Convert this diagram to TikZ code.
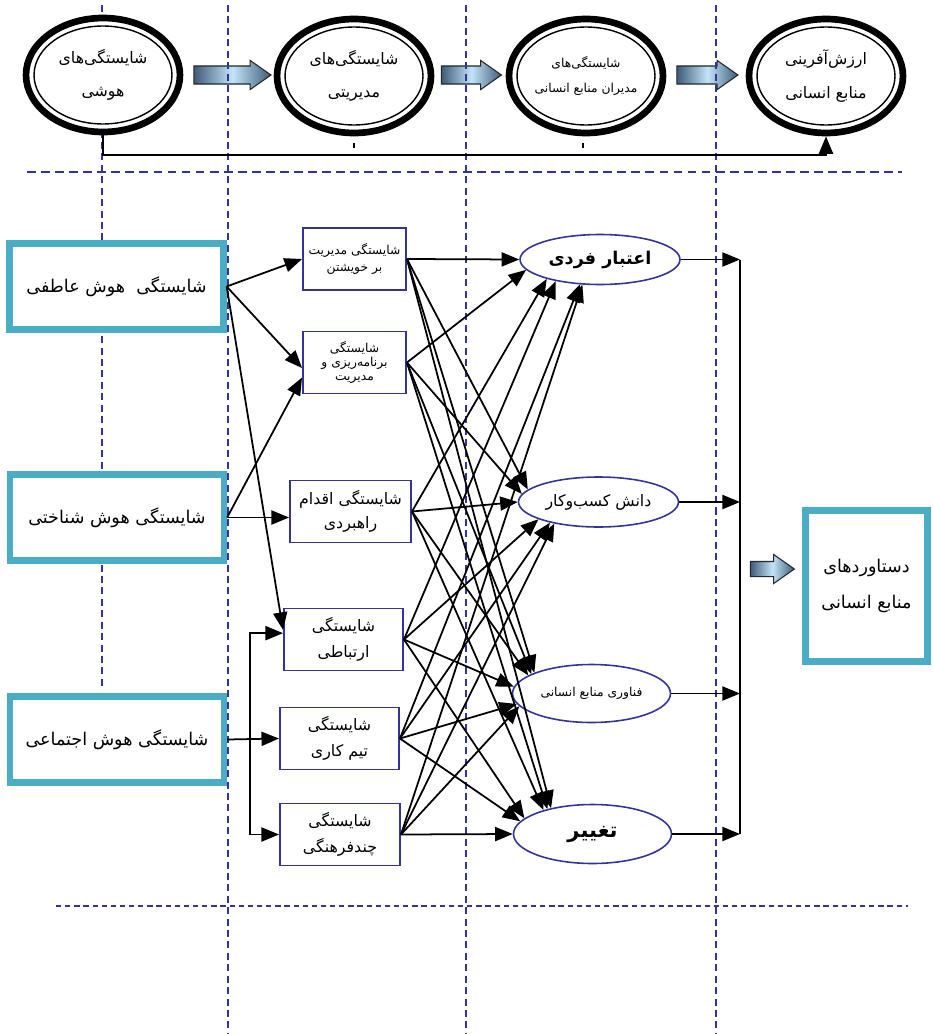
\documentclass[tikz,border=0pt]{standalone}
\usepackage{fontspec}
\usepackage{tikz}
\usetikzlibrary{arrows.meta,shapes.geometric,shapes.arrows}
\newfontfamily\arabicfont[Script=Arabic]{DejaVu Sans}
\TeXXeTstate=1
\newcommand{\fa}[1]{{\arabicfont\beginR #1\endR}}
\definecolor{tealb}{RGB}{75,172,198}
\definecolor{navyb}{RGB}{51,51,153}
\definecolor{steeld}{RGB}{62,92,122}
\definecolor{steell}{RGB}{195,228,248}
\tikzset{
  ringnode/.style={ellipse, draw, line width=3.8pt, fill=white, minimum width=3.08cm, minimum height=2.28cm, inner sep=0pt, align=center, font=\small},
  hibox/.style={draw=tealb, line width=3.6pt, fill=white, minimum width=4.28cm, minimum height=1.72cm, align=center},
  compbox/.style={draw=navyb, line width=1.1pt, fill=white, minimum width=2.06cm, minimum height=1.24cm, inner sep=1pt, align=center, font=\scriptsize},
  outell/.style={ellipse, draw=navyb, line width=0.9pt, fill=white, minimum width=3.2cm, minimum height=1cm, inner sep=0pt, font=\small},
  blockarrow/.style={single arrow, draw=black!85, line width=0.6pt, left color=steeld, right color=steeld, middle color=steell, inner xsep=0pt, inner ysep=0.17cm, single arrow head extend=0.11cm, single arrow tip angle=70},
  link/.style={-{Triangle[length=10pt,width=8pt]}, line width=1pt},
  guidev/.style={navyb, line width=0.8pt, dash pattern=on 4pt off 2.5pt},
  guideh/.style={navyb, line width=1pt, dash pattern=on 5pt off 3pt},
  guided/.style={navyb, line width=1.3pt, dash pattern=on 3pt off 2.2pt}
}
\begin{document}
\begin{tikzpicture}[x=0.02cm,y=-0.02cm]
  \useasboundingbox (0,0) rectangle (933,1034);

  \draw (226,75) node[blockarrow, minimum height=1.54cm] (a1) {};
  \draw (465,75) node[blockarrow, minimum height=1.2cm] (a2) {};
  \draw (701,75) node[blockarrow, minimum height=1.22cm] (a3) {};
  \draw (767,569) node[blockarrow, minimum height=0.88cm, inner ysep=0.14cm, single arrow head extend=0.14cm] (a4) {};

  \draw[guidev] (102,5) -- (102,690);
  \foreach \gx in {228,466,716} \draw[guidev] (\gx,5) -- (\gx,1034);
  \draw[guideh] (27,172) -- (902,172);
  \draw[guided] (56,906) -- (908,906);

  \draw (103,75) node[ringnode] (e1) {\fa{شایستگی‌های}\\[8pt]\fa{هوشی}};
  \draw (354,76) node[ringnode] (e2) {\fa{شایستگی‌های}\\[8pt]\fa{مدیریتی}};
  \draw (586,76) node[ringnode, font=\scriptsize] (e3) {\fa{شایستگی‌های}\\[6pt]\fa{مدیران منابع انسانی}};
  \draw (826,76) node[ringnode] (e4) {\fa{ارزش‌آفرینی}\\[8pt]\fa{منابع انسانی}};
  \foreach \e in {e1,e2,e3,e4} \draw[line width=0.8pt] (\e.center) ellipse (1.38cm and 0.98cm);
  \draw[link, line width=1.2pt] (e1.south) -- ++(0,20) -| (e4.south);
  \draw[line width=0.8pt] (354,143) -- (354,148);
  \draw[line width=0.8pt] (583,143) -- (583,148);

  \draw (116.5,286.5) node[hibox] (b1) {\fa{شایستگی~~هوش عاطفی}};
  \draw (117,517.5) node[hibox] (b2) {\fa{شایستگی هوش شناختی}};
  \draw (117,739.5) node[hibox] (b3) {\fa{شایستگی هوش اجتماعی}};
  \draw (866.5,586) node[hibox, minimum width=2.44cm, minimum height=3.02cm] (b4) {\fa{دستاوردهای}\\[8pt]\fa{منابع انسانی}};

  \draw (354.5,259) node[compbox] (m1) {\fa{شایستگی مدیریت}\\[2pt]\fa{بر خویشتن}};
  \draw (354.5,362.5) node[compbox] (m2) {\fa{شایستگی}\\\fa{برنامه‌ریزی و}\\\fa{مدیریت}};
  \draw (350.5,511.5) node[compbox, minimum width=2.42cm, font=\small] (m3) {\fa{شایستگی اقدام}\\[3pt]\fa{راهبردی}};
  \draw (343.5,639.5) node[compbox, minimum width=2.38cm, font=\small] (m4) {\fa{شایستگی}\\[4pt]\fa{ارتباطی}};
  \draw (339.5,738.5) node[compbox, minimum width=2.38cm, font=\small] (m5) {\fa{شایستگی}\\[4pt]\fa{تیم کاری}};
  \draw (340,834.5) node[compbox, minimum width=2.4cm, font=\small] (m6) {\fa{شایستگی}\\[4pt]\fa{چندفرهنگی}};

  \draw (600,259.5) node[outell, font=\normalsize\bfseries] (o1) {\fa{اعتبار فردی}};
  \draw (598.5,502) node[outell] (o2) {\fa{دانش کسب‌وکار}};
  \draw (591.5,693.5) node[outell, minimum width=3.16cm, minimum height=1.16cm, font=\scriptsize] (o3) {\fa{فناوری منابع انسانی}};
  \draw (592.5,834) node[outell, minimum width=3.16cm, minimum height=1.18cm, font=\large\bfseries] (o4) {\fa{تغییر}};

  \path[link] (b1.east) edge (m1.west) edge (m2.186) edge (m4.171);
  \path[link] (b2.east) edge (m2.196) edge (b2.east -| m3.west);
  \coordinate (sj) at (250,739.5);
  \draw[link] (b3.east) -- (m5.west);
  \draw[link] (sj) |- (m4.174);
  \draw[link] (sj) |- (m6.west);

  \path[link] (m1.east) edge (o1.west);
  \path[link] (m2.east) edge (o1.188);
  \path[link] (m3.east) edge (o1.200);
  \path[link] (m4.east) edge (o1.206);
  \path[link] (m5.east) edge (o1.231);
  \path[link] (m6.east) edge (o1.235);

  \path[link] (m1.east) edge (o2.170);
  \path[link] (m2.east) edge (o2.174);
  \path[link] (m3.east) edge (o2.west);
  \path[link] (m4.east) edge (o2.196);
  \path[link] (m5.east) edge (o2.203);
  \path[link] (m6.east) edge (o2.206);

  \path[link] (m1.east) edge (o3.160);
  \path[link] (m2.east) edge (o3.162);
  \path[link] (m3.east) edge (o3.164);
  \path[link] (m4.east) edge (o3.175);
  \path[link] (m5.east) edge (o3.188);
  \path[link] (m6.east) edge (o3.190);

  \path[link] (m1.east) edge (o4.148);
  \path[link] (m2.east) edge (o4.151);
  \path[link] (m3.east) edge (o4.154);
  \path[link] (m4.east) edge (o4.167);
  \path[link] (m5.east) edge (o4.170);
  \path[link] (m6.east) edge (o4.west);

  \coordinate (c1) at (740,259.5);
  \coordinate (c2) at (740,502);
  \coordinate (c3) at (740,693.5);
  \coordinate (c4) at (740,834);
  \path[link] (o1.east) edge (c1) (o2.east) edge (c2) (o3.east) edge (c3) (o4.east) edge (c4);
  \draw[line width=0.8pt] (c1) -- (c4);
\end{tikzpicture}
\end{document}
